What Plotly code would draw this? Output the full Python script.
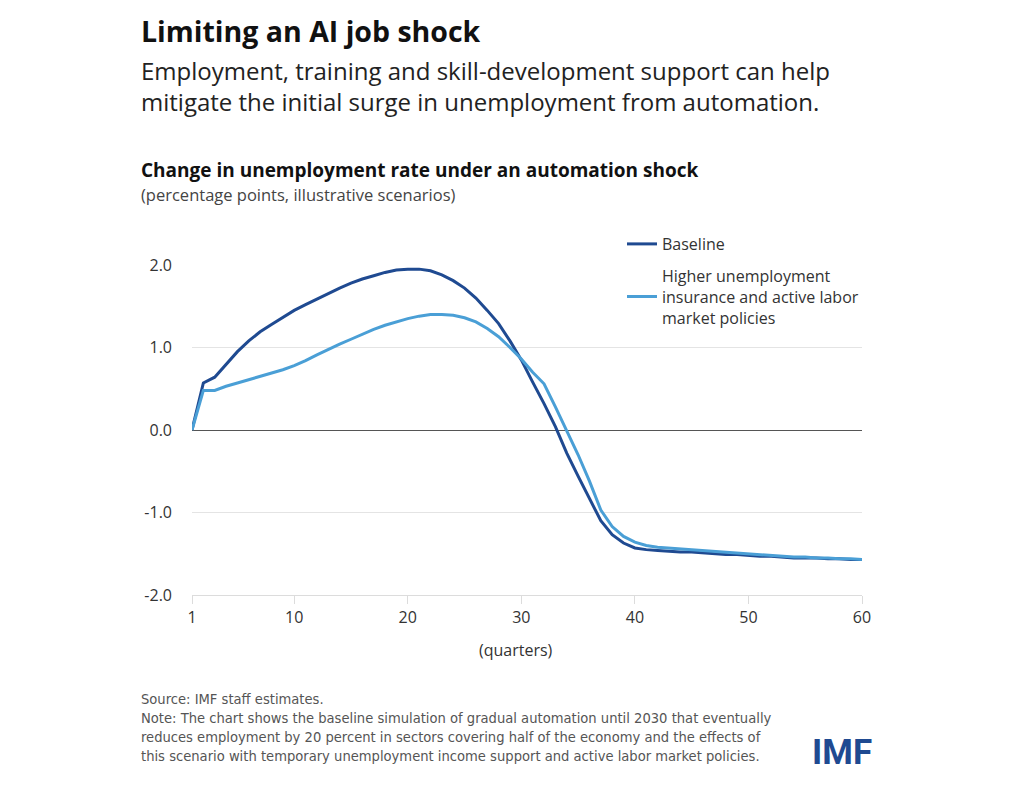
import plotly.graph_objects as go

# quarters after the shock
quarters = list(range(1, 61))

# change in unemployment rate, percentage points
baseline = [
    0.00, 0.57, 0.64, 0.80, 0.95, 1.08, 1.19, 1.28, 1.37, 1.45,
    1.52, 1.59, 1.66, 1.72, 1.78, 1.83, 1.87, 1.91, 1.94, 1.95,
    1.95, 1.93, 1.88, 1.81, 1.72, 1.60, 1.45, 1.29, 1.08, 0.85,
    0.58, 0.32, 0.04, -0.28, -0.56, -0.84, -1.10, -1.27, -1.37, -1.43,
    -1.45, -1.46, -1.47, -1.48, -1.48, -1.49, -1.50, -1.51, -1.51, -1.52,
    -1.53, -1.53, -1.54, -1.55, -1.55, -1.55, -1.56, -1.56, -1.57, -1.57,
]
policies = [
    0.00, 0.48, 0.48, 0.53, 0.57, 0.61, 0.65, 0.69, 0.73, 0.78,
    0.84, 0.91, 0.98, 1.04, 1.10, 1.16, 1.22, 1.27, 1.31, 1.35,
    1.38, 1.40, 1.40, 1.39, 1.36, 1.31, 1.23, 1.13, 1.00, 0.86,
    0.70, 0.56, 0.28, 0.00, -0.30, -0.62, -0.97, -1.17, -1.29, -1.36,
    -1.40, -1.42, -1.43, -1.44, -1.45, -1.46, -1.47, -1.48, -1.49, -1.50,
    -1.51, -1.52, -1.53, -1.54, -1.54, -1.55, -1.55, -1.56, -1.56, -1.57,
]

x_ticks = [1, 10, 20, 30, 40, 50, 60]
y_ticks = [-2, -1, 0, 1, 2]
y_tick_labels = ["-2.0", "-1.0", "0.0", "1.0", "2.0"]

title = "Limiting an AI job shock"
subtitle = [
    "Employment, training and skill-development support can help",
    "mitigate the initial surge in unemployment from automation.",
]
chart_title = "Change in unemployment rate under an automation shock"
chart_units = "(percentage points, illustrative scenarios)"
footnote = [
    "Source: IMF staff estimates.",
    "Note: The chart shows the baseline simulation of gradual automation until 2030 that eventually",
    "reduces employment by 20 percent in sectors covering half of the economy and the effects of",
    "this scenario with temporary unemployment income support and active labor market policies.",
]

DARK = "#1f4a91"
LIGHT = "#4a9fd6"
FONT = "'Open Sans', Lato, sans-serif"
NARROW = "'Liberation Sans Narrow', 'DejaVu Sans Condensed', sans-serif"

# page body adds an 8px margin, so the figure is a bit smaller than the window
OFF = 8
W, H = 1016, 788
L, T = 192 - OFF, 265 - OFF
R = W - (862 - OFF)
B = H - (595 - OFF)


def sx(p):
    # screen pixel x -> paper coordinate
    return (p - OFF - L) / (W - L - R)


def sy(p):
    return (H - B - (p - OFF)) / (H - T - B)


def note(text, x, y, size, color, family=FONT, anchor="left"):
    return dict(
        text=text, xref="paper", yref="paper", x=sx(x), y=sy(y),
        xanchor=anchor, yanchor="middle", align="left", showarrow=False,
        font=dict(family=family, size=size, color=color),
    )


fig = go.Figure()
fig.add_trace(go.Scatter(
    x=quarters, y=baseline, mode="lines", name="Baseline", legendgroup="a",
    line=dict(color=DARK, width=3),
))
fig.add_trace(go.Scatter(
    x=quarters, y=policies, mode="lines", legendgroup="b",
    name="Higher unemployment<br>insurance and active labor<br>market policies",
    line=dict(color=LIGHT, width=3),
))

annotations = [
    note(f"<b>{title}</b>", 139, 31, 28.5, "#111"),
    note("<br>".join(subtitle), 139, 86, 24, "#222"),
    note(f"<b>{chart_title}</b>", 139, 170, 19, "#111"),
    note(chart_units, 139, 194, 16.5, "#444"),
    note("(quarters)", 516, 650, 16, "#333", anchor="center"),
    note("<br>".join(footnote), 139, 727, 14.6, "#555", family=NARROW),
    note("<b>IMF</b>", 874, 752, 35, DARK, family="Roboto, sans-serif",
         anchor="right"),
]

fig.update_layout(
    width=W, height=H,
    margin=dict(l=L, r=R, t=T, b=B),
    paper_bgcolor="white", plot_bgcolor="white",
    font=dict(family=FONT, color="#333"),
    showlegend=True,
    legend=dict(
        x=sx(622), y=sy(227), xanchor="left", yanchor="top",
        font=dict(family=FONT, size=16, color="#333"),
        bgcolor="rgba(0,0,0,0)", tracegroupgap=8, itemwidth=30,
    ),
    xaxis=dict(
        range=[1, 60], tickvals=x_ticks, showgrid=False, zeroline=False,
        showline=True, linecolor="#dcdcdc", linewidth=1,
        ticks="outside", ticklen=8, tickcolor="#dcdcdc",
        tickfont=dict(size=16, color="#333"),
    ),
    yaxis=dict(
        range=[-2, 2], tickvals=y_ticks, ticktext=y_tick_labels,
        showgrid=True, gridcolor="#e4e4e4", gridwidth=1,
        zeroline=True, zerolinecolor="#555", zerolinewidth=1,
        showline=False, ticks="", ticklabelstandoff=19,
        tickfont=dict(size=16, color="#333"),
    ),
    annotations=annotations,
)

fig.write_html("out.html")
